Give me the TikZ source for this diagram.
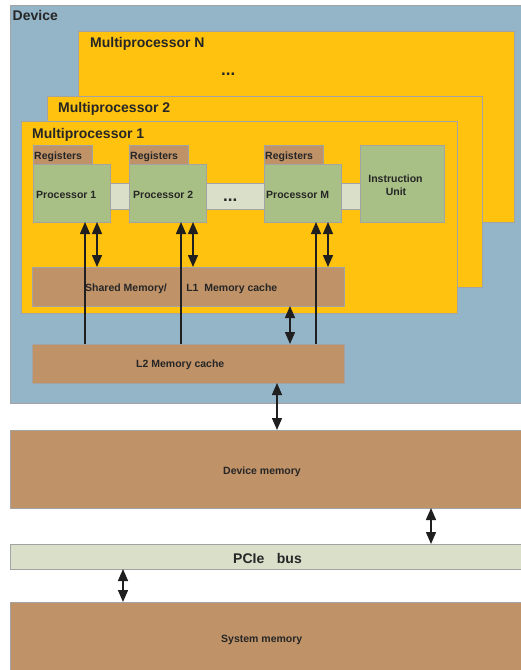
\documentclass[tikz,border=0pt]{standalone}
\usepackage{fontspec}
\setmainfont{Liberation Sans}
\usetikzlibrary{arrows.meta}
\definecolor{devblue}{HTML}{94B4C7}
\definecolor{mpyel}{HTML}{FFC20E}
\definecolor{brownbox}{HTML}{BF9268}
\definecolor{procgreen}{HTML}{A8BF85}
\definecolor{busgreen}{HTML}{D9DFC9}
\definecolor{bordergray}{HTML}{A3A3A3}
\definecolor{txt}{HTML}{262626}
\tikzset{
  box/.style={draw=bordergray, line width=0.8pt, anchor=north west, inner sep=0pt, outer sep=0pt},
  lbl/.style={anchor=base west, inner sep=0pt, text=txt, font=\bfseries\fontsize{10.5}{12}\selectfont},
  biglbl/.style={anchor=base west, inner sep=0pt, text=txt, font=\bfseries\fontsize{14}{16}\selectfont},
  dotlbl/.style={anchor=base west, inner sep=0pt, text=txt, font=\bfseries\fontsize{17}{18}\selectfont},
  uarr/.style={line width=1.4pt, draw=black!88, -{Triangle[length=12pt,width=10pt]}},
  darr/.style={line width=1.4pt, draw=black!88, {Triangle[length=12pt,width=10pt]}-{Triangle[length=12pt,width=10pt]}}
}
\begin{document}
\begin{tikzpicture}[x=1pt,y=-1pt]
\useasboundingbox (0,0) rectangle (520,670);
\fill[white] (0,0) rectangle (520,670);
% device
\node[box, fill=devblue, minimum width=511pt, minimum height=398pt] (dev) at (10,5) {};
\node[lbl, font=\bfseries\fontsize{14}{16}\selectfont] (devl) at (12.5,20) {Device};
% multiprocessors
\node[box, fill=mpyel, minimum width=436pt, minimum height=191pt] (mpn) at (78,31) {};
\node[biglbl] (mpnl) at (90,47) {Multiprocessor N};
\node[dotlbl] (mpndots) at (221,75) {...};
\node[box, fill=mpyel, minimum width=435pt, minimum height=191pt] (mp2) at (47,96) {};
\node[biglbl] (mp2l) at (58,112) {Multiprocessor 2};
\node[box, fill=mpyel, minimum width=436pt, minimum height=192pt] (mp1) at (21,121) {};
\node[biglbl] (mp1l) at (32,138) {Multiprocessor 1};
% registers
\node[box, fill=brownbox, minimum width=59pt, minimum height=19pt] (reg1) at (33,145) {};
\node[box, fill=brownbox, minimum width=59pt, minimum height=19pt] (reg2) at (129,145) {};
\node[box, fill=brownbox, minimum width=59pt, minimum height=19pt] (regm) at (264,145) {};
\node[lbl] (reg1l) at (34,159) {Registers};
\node[lbl] (reg2l) at (130,159) {Registers};
\node[lbl] (regml) at (265,159) {Registers};
% bus bar between processors
\node[box, fill=busgreen, minimum width=256pt, minimum height=26pt] (bar) at (105,183) {};
% processors
\node[box, fill=procgreen, minimum width=77pt, minimum height=58pt] (p1) at (33,164) {};
\node[box, fill=procgreen, minimum width=77pt, minimum height=58pt] (p2) at (129,164) {};
\node[box, fill=procgreen, minimum width=77pt, minimum height=58pt] (pm) at (264,164) {};
\node[lbl] (p1l) at (36,198) {Processor 1};
\node[lbl] (p2l) at (133,198) {Processor 2};
\node[lbl] (pml) at (266,198) {Processor M};
\node[dotlbl] (bardots) at (223,201) {...};
% instruction unit
\node[box, fill=procgreen, minimum width=84pt, minimum height=77pt] (iu) at (360,145) {};
\node[lbl, anchor=base] (iul1) at (395.5,182) {Instruction};
\node[lbl, anchor=base] (iul2) at (396,195) {Unit};
% shared memory
\node[box, fill=brownbox, minimum width=312pt, minimum height=39pt] (shm) at (32,267) {};
\node[lbl] (shml) at (85,291) {Shared Memory/\hspace{1.85em}L1\hspace{0.55em}Memory cache};
% L2
\node[box, fill=brownbox, minimum width=312pt, minimum height=39pt] (l2) at (32,344) {};
\node[lbl] (l2l) at (136,367) {L2 Memory cache};
% device memory
\node[box, fill=brownbox, minimum width=511pt, minimum height=78pt] (dmem) at (10,430) {};
\node[lbl, anchor=base] (dmeml) at (262,474) {Device memory};
% PCIe
\node[box, fill=busgreen, minimum width=511pt, minimum height=25pt] (pcie) at (10,544) {};
\node[biglbl] (pciel) at (233,563) {PCIe\hspace{0.9em}bus};
% system memory
\node[box, fill=brownbox, minimum width=511pt, minimum height=72pt] (smem) at (10,602) {};
\node[lbl] (smeml) at (221,642) {System memory};
% arrow x positions
\coordinate (a1) at (85,0);
\coordinate (b1) at (97,0);
\coordinate (a2) at (181,0);
\coordinate (b2) at (193,0);
\coordinate (am) at (316,0);
\coordinate (bm) at (328,0);
\coordinate (cc) at (290,0);
\coordinate (dd) at (277,0);
\coordinate (ee) at (431,0);
\coordinate (ff) at (123,0);
\draw[uarr] (l2.north -| a1) -- (p1.south -| a1);
\draw[uarr] (l2.north -| a2) -- (p2.south -| a2);
\draw[uarr] (l2.north -| am) -- (pm.south -| am);
\draw[darr] (shm.north -| b1) -- (p1.south -| b1);
\draw[darr] (shm.north -| b2) -- (p2.south -| b2);
\draw[darr] (shm.north -| bm) -- (pm.south -| bm);
\draw[darr] (l2.north -| cc) -- (shm.south -| cc);
\draw[darr] (dmem.north -| dd) -- (l2.south -| dd);
\draw[darr] (pcie.north -| ee) -- (dmem.south -| ee);
\draw[darr] (smem.north -| ff) -- (pcie.south -| ff);
\end{tikzpicture}
\end{document}
